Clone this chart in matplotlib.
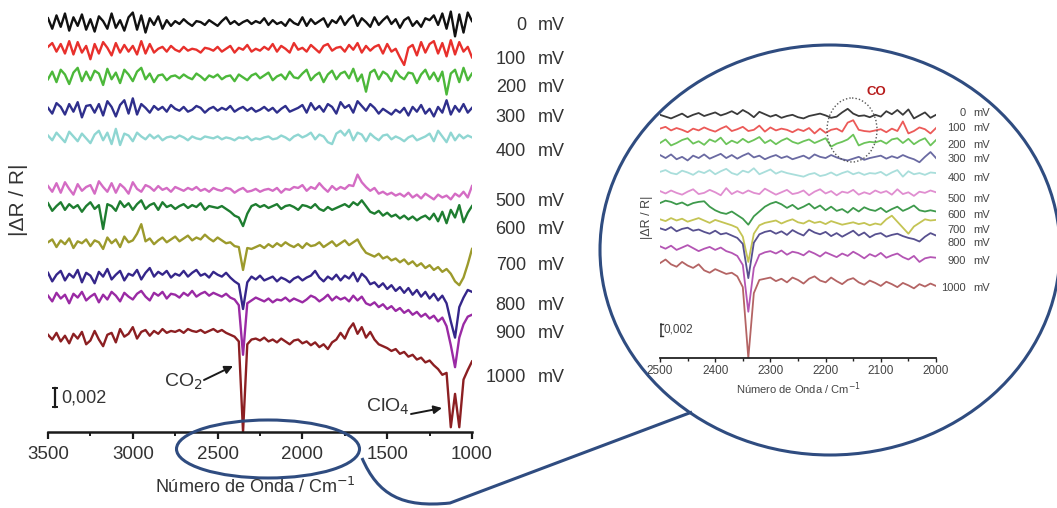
import numpy as np
import matplotlib.pyplot as plt
from matplotlib.patches import Ellipse, PathPatch
from matplotlib.path import Path

plt.rcParams['font.family'] = ['Liberation Sans', 'DejaVu Sans']

W, H = 1057, 508

# ---------------- data ----------------
potentials = [0, 100, 200, 300, 400, 500, 600, 700, 800, 900, 1000]

# full range spectra, 3500 -> 1000 cm-1 every 25 cm-1 (deviation, units of 1e-4)
wn_main = np.linspace(3500, 1000, 101)

main_0mV = [5, -6, 8, -4, 10, -8, 6, -3, 9, -7,
            4, -9, 7, 2, -6, 10, -5, 3, -8, 6,
            11, -7, 8, -10, 5, -2, 7, -6, 3, -3,
            2, -1, 4, 0, -3, 2, 1, -2, 3, 0,
            -3, 2, 6, -1, 2, -2, 1, 3, -1, 2,
            0, 5, -2, 3, -1, 1, -3, 4, 0, -2,
            6, -3, 4, -1, 2, 5, -4, 3, 0, 7,
            -2, 4, 8, -3, 5, 1, -4, 6, -2, 3,
            7, -1, 4, -5, 3, 6, -3, 2, -4, 5,
            3, 8, -2, 10, -6, 12, -14, 9, -10, 11,
            2]
main_100mV = [3, 7, -2, 6, -4, 9, -5, 8, -3, 4,
              -10, 6, -4, 8, 2, -6, 7, -3, 5, -2,
              4, -5, 9, -4, 6, -3, 1, 3, -2, 4,
              0, -2, 3, -1, 1, 0, -3, 2, 1, -1,
              3, -2, 1, 4, -3, 2, 0, 5, -2, 1,
              -1, 3, 0, 6, -2, 4, 1, -3, 7, 0,
              2, -2, 5, 1, -3, 4, 6, -1, 2, 3,
              -2, 5, 0, 7, -3, 4, -1, 3, 5, -4,
              6, -2, 1, -8, -16, 2, 5, -6, 8, -3,
              6, 9, -4, 7, -7, 10, -5, 8, -2, 3,
              -8]
main_200mV = [-2, 6, -5, 8, 3, -7, 5, 10, -4, 6,
              -3, 7, 4, -8, 9, -2, 5, -6, 8, 3,
              -4, 6, 10, -2, 4, -5, 2, 3, -3, 1,
              2, -1, 3, 0, -2, 4, 1, -3, 2, 0,
              3, -2, 1, 2, -4, 3, 0, -3, 2, 4,
              -1, 2, 5, -3, 1, 3, -2, 6, 0, -1,
              4, 8, -3, 2, 5, -5, 3, 7, -2, 4,
              6, -1, 9, -4, 3, -15, 5, 8, -2, 6,
              3, -4, 7, 1, -2, 5, 4, -6, 3, 8,
              -2, 5, -4, 6, -18, 4, 8, -5, 10, -3,
              4]
main_300mV = [2, -4, 7, 3, -5, 6, -2, 8, -8, 4,
              5, -3, 6, -6, 9, 3, -7, 5, 10, -4,
              12, -5, 6, 2, -3, 4, 0, 3, -2, 5,
              1, -1, 3, -2, 0, 4, 2, -3, 1, 3,
              -1, 2, 0, 4, -2, 1, 3, -1, 2, -2,
              0, 3, -1, 2, -3, 1, 4, -2, 0, 2,
              5, -3, 7, 0, 4, -2, 6, 3, -4, 8,
              2, 5, -3, 9, 4, -1, 6, 2, -4, 1,
              -2, -5, 0, -3, 2, -6, 3, -2, 5, -4,
              1, -7, 3, -3, 10, -5, 4, -2, 6, -3,
              2]
main_400mV = [3, -2, 6, 1, -4, 7, 2, -3, 5, 0,
              -5, 4, 8, -2, 6, -6, 10, -7, 5, 3,
              -3, 6, 2, -1, 4, 0, 3, -2, 1, 2,
              0, 3, 1, -2, 2, 0, -1, 2, 1, 0,
              2, -1, 1, 0, -2, 1, 0, 2, -2, 0,
              -1, 1, 2, -1, 0, 3, 1, -2, 2, 4,
              1, 3, 6, -1, 4, 2, -4, -6, 5, 8,
              3, 9, -2, 6, 4, -3, 5, 1, -2, 3,
              4, -1, 2, 0, -3, 1, 3, -2, 0, 2,
              5, -3, 8, 2, -4, 6, -2, 4, 0, 3,
              1]
main_500mV = [4, -2, 7, -3, 8, 1, -5, 6, -1, 3,
              5, -4, 9, 3, -2, 7, -3, 6, 2, -4,
              8, 1, -2, 5, 3, -1, 4, 0, 2, -2,
              3, 1, -1, 2, 0, 3, -1, 1, -2, 2,
              0, -1, 2, 1, -3, 0, 2, -2, -1, 1,
              -2, 0, 1, -1, 2, -3, 1, 0, 3, 2,
              5, -1, 3, 1, 7, 2, -2, 4, 0, 3,
              1, 5, 4, 16, 8, 3, -1, 2, -4, -2,
              -5, -3, -6, -4, -7, -3, -8, -5, -9, -4,
              -7, -10, -5, -8, -6, -10, -4, -7, -2, -8,
              4]
main_600mV = [5, -3, 2, 6, -2, 4, 0, 3, -4, 2,
              6, -1, 3, -22, 4, 2, -3, 7, 1, 5,
              -2, 4, 8, -1, 3, 5, -2, 6, 1, 3,
              -1, 2, 4, 0, 3, 1, 5, -2, 2, 1,
              0, 2, -1, -4, -8, -10, -19, -6, 2, 4,
              1, 3, 0, 2, 4, -1, 2, 3, 1, -2,
              3, 2, 0, 4, -1, -3, 1, -2, 0, 2,
              4, 1, 6, 3, 8, 2, -4, -6, -3, -8,
              -5, -9, -7, -11, -8, -12, -9, -13, -10, -8,
              -12, -6, -14, -4, -16, -2, -10, 3, -15, -5,
              2]
main_700mV = [3, 6, -2, 5, 1, 7, -3, 4, 2, 6,
              -1, 5, 3, -4, 8, 2, 6, -2, 9, 3,
              5, 12, 22, 4, 7, 1, 5, 8, 3, 6,
              9, 4, 7, 10, 5, 8, 6, 11, 7, 4,
              8, 5, 2, 3, -1, -2, -26, -3, -4, -2,
              0, -3, 1, -2, 2, -1, 3, 0, -2, 1,
              -3, 2, -1, 0, 3, -2, 1, 4, -1, 2,
              5, 0, 3, 6, -2, -8, -10, -12, -9, -14,
              -12, -16, -14, -18, -15, -20, -17, -22, -19, -24,
              -21, -26, -23, -28, -25, -30, -38, -42, -34, -20,
              -4]
main_800mV = [6, -3, 4, 8, -2, 5, 1, 9, -4, 6,
              3, -5, 7, 2, 10, -1, 4, 8, -2, 5,
              3, 9, -1, 6, 11, 2, 7, 4, 8, 1,
              5, 3, 8, 2, 6, 9, 3, 5, 1, 7,
              4, 2, 6, 1, -3, -6, -32, -4, 2, -1,
              3, -2, 0, 2, -3, 1, -1, -4, 0, 2,
              -2, 1, 3, 8, 1, -3, 2, -1, 4, -2,
              3, 0, 6, -3, 5, 1, -6, -4, -9, -5,
              -11, -7, -13, -9, -15, -10, -17, -12, -19, -14,
              -21, -16, -23, -18, -26, -45, -62, -30, -20, -12,
              -14]
main_900mV = [2, -4, 5, -1, 3, -6, 4, 0, 6, -3,
              1, 4, -5, 3, -2, 6, 2, -4, 5, 1,
              -2, 4, 7, 1, -3, 5, 2, 6, -1, 4,
              3, 0, 5, 2, 7, 1, 4, 6, 2, 5,
              3, 1, 4, 0, -2, -8, -60, -6, -3, 0,
              -2, -4, -1, -5, -2, -3, 0, -4, -1, -3,
              -5, -2, 2, 0, -4, -1, 3, -3, 1, -2,
              0, -4, 2, -3, 1, -6, -8, -5, -10, -7,
              -12, -9, -14, -11, -16, -13, -18, -15, -20, -17,
              -22, -19, -25, -21, -30, -50, -73, -42, -28, -20,
              -18]
main_1000mV = [2, -3, 4, -5, 1, -7, 3, -2, 5, -8,
               -4, 6, -3, -10, 2, 4, -6, 8, 0, 3,
               10, -2, 5, 7, 1, 6, 3, 8, 4, 6,
               5, 7, 4, 8, 6, 5, 7, 4, 6, 8,
               5, 7, 4, 2, 0, -5, -100, -8, -3, -2,
               -4, -1, -5, -3, -6, -2, -5, -8, -4, -3,
               -7, -5, -9, -6, -11, -8, -13, -6, -3, 4,
               -2, 8, 14, 3, 10, -1, 5, -3, -8, -10,
               -12, -15, -13, -18, -16, -21, -19, -24, -22, -27,
               -25, -30, -34, -40, -38, -95, -60, -95, -45, -35,
               -26]

# zoomed spectra, 2500 -> 2000 cm-1 every 10 cm-1 (deviation, units of 1e-4)
wn_inset = np.linspace(2500, 2000, 51)

inset_0mV = [0, -3, -6, -2, 2, -4, 0, 3, -2, 1,
             4, -1, 2, 6, 1, 8, 3, -4, 5, 1,
             -3, 0, -5, -2, 0, -4, -6, -2, 0, 2,
             -1, -5, -3, 4, 10, 2, -2, -1, -4, 0,
             -3, 6, 1, 8, 0, 9, -6, -1, 4, -5,
             0]
inset_100mV = [2, 5, -1, 3, 0, -4, 2, -1, 4, 0,
               -3, 2, 6, -2, 1, 5, -2, 0, 7, -3,
               4, -1, 2, 0, -4, 1, -2, 3, -6, 2,
               -5, 0, 2, -3, 12, 16, 0, -2, -3, -1,
               1, -4, 2, -2, 14, -6, -2, 4, 1, -6,
               3]
inset_200mV = [-2, 4, -6, -2, 3, 6, -3, 1, -5, 4,
               0, 7, -4, 2, -2, 5, -1, 3, 8, -2,
               3, -4, 2, 6, 0, -3, 1, 4, -2, 2,
               6, -8, -3, 0, 4, 12, -6, -2, 0, -1,
               2, -3, 4, 6, -2, 5, -4, 2, 6, -6,
               3]
inset_300mV = [3, -2, 4, -4, 0, -6, 2, -2, 4, -3,
               1, 5, -2, 3, -3, 2, 6, -1, 2, -4,
               0, 3, -2, 1, -4, -1, 2, -3, 4, 0,
               -2, 3, -1, -4, -6, -3, 0, -5, -2, 0,
               2, -3, 1, -2, 3, -1, -4, -9, 0, 8,
               -2]
inset_400mV = [2, 5, 0, -2, 4, 1, -3, 3, 0, 5,
               -2, 3, 7, 0, -3, 4, 1, 8, -2, 2,
               6, -1, 3, 0, -2, -4, -6, -2, 0, -5,
               -3, 1, -4, 0, 3, -2, 1, -3, 0, -1,
               2, -4, 1, 5, -6, 3, -2, 0, -3, 1,
               0]
inset_500mV = [3, -1, 4, 0, -3, 2, 6, -2, 0, 5,
               1, -4, 8, -2, 3, -1, 4, 0, -2, 7,
               2, -3, 1, 5, -2, 0, 4, -4, 2, 6,
               -1, 3, -4, 2, 0, 5, -3, 1, -2, 4,
               0, 3, -3, 6, -2, 1, -5, 2, 0, 4,
               1]
inset_600mV = [6, 10, 8, 4, 7, 2, 6, 8, 9, 0,
               -6, -10, -12, -8, -14, -20, -30, -16, -8, 0,
               5, 8, 4, -2, 3, -4, 0, 5, -3, 2,
               -6, 0, -7, -4, -10, -2, -8, -1, -5, -7,
               -2, -9, -4, 0, -7, -3, 2, -6, -8, -6,
               -8]
inset_700mV = [4, 1, 6, 2, 5, 0, 3, 6, 2, -2,
               3, 0, -3, -6, -10, -25, -67, -20, -6, -2,
               0, 2, -3, 1, 4, -1, -3, 2, -2, 0,
               -4, 1, -2, -5, -3, -1, -4, -2, -6, -3,
               -5, 4, 10, 0, -10, -20, -8, -2, 4, 2,
               3]
inset_800mV = [6, 3, 8, 1, 5, 7, 2, 4, 0, -3,
               2, -4, -2, -6, -10, -20, -77, -18, -4, 0,
               2, -3, 1, -5, 3, -2, -6, 4, -1, -4,
               0, -7, -2, -8, -3, 2, -6, -1, -9, -4,
               -2, -8, -5, -3, -7, -10, -12, -16, -8, -2,
               -6]
inset_900mV = [6, 2, 7, 0, 4, 8, 3, -2, 2, 5,
               0, 4, -2, -5, -10, -25, -103, -30, -8, -4,
               -2, -6, -1, -8, -3, -5, -9, -2, -6, -11,
               -4, -8, -12, -6, -10, -3, -8, -14, -7, -11,
               -5, -13, -9, -6, -12, -16, -10, -20, -14, -12,
               -13]
inset_1000mV = [20, 26, 18, 14, 22, 16, 12, 18, 8, 4,
                10, 6, 2, 4, -2, -20, -138, -30, -8, -6,
                -4, -10, -6, -12, -4, -8, -14, -6, -2, -9,
                -12, -4, -10, -15, -8, -5, -12, -16, -9, -13,
                -18, -11, -15, -20, -13, -17, -22, -15, -19, -14,
                -18]

main_traces = [main_0mV, main_100mV, main_200mV, main_300mV, main_400mV,
               main_500mV, main_600mV, main_700mV, main_800mV, main_900mV,
               main_1000mV]
inset_traces = [inset_0mV, inset_100mV, inset_200mV, inset_300mV, inset_400mV,
                inset_500mV, inset_600mV, inset_700mV, inset_800mV, inset_900mV,
                inset_1000mV]

# vertical stacking of the spectra (units of 1e-4)
offsets_main = [429, 401, 372, 338, 308, 254, 235, 196, 161, 141, 100]
offsets_inset = [405, 380, 360, 335, 308, 275, 252, 227, 210, 180, 138]

colors_main = ['#111111', '#e8302c', '#4cb83a', '#2f2f8c', '#8fd6d2', '#d46cc4',
               '#1e7d30', '#9c9a2c', '#35268a', '#9a2aa4', '#8c1f22']
colors_inset = ['#3a3a3a', '#ec5a58', '#6cc45a', '#6a6aa2', '#a9dedb', '#e08ed0',
                '#3e9a4c', '#c4c454', '#57508f', '#b455b4', '#b46464']

# ---------------- figure ----------------
fig = plt.figure(figsize=(W / 100, H / 100), dpi=100)


def px_axes(x0, y0, x1, y1):
    return [x0 / W, 1 - y1 / H, (x1 - x0) / W, (y1 - y0) / H]


SCALE = 1e-4

# main panel
ax = fig.add_axes(px_axes(48, 3, 472, 432))
for dev, off, c in zip(main_traces, offsets_main, colors_main):
    ax.plot(wn_main, (off + np.array(dev)) * SCALE, color=c, lw=1.7,
            solid_joinstyle='round')
ax.set_xlim(3500, 1000)
ax.set_ylim(0, 0.0450)
for s in ('left', 'right', 'top'):
    ax.spines[s].set_visible(False)
ax.spines['bottom'].set_linewidth(1.8)
ax.spines['bottom'].set_color('#1a1a1a')
ax.set_yticks([])
ax.set_xticks([3500, 3000, 2500, 2000, 1500, 1000])
ax.set_xticks(np.arange(3250, 1000, -500), minor=True)
ax.tick_params(axis='x', which='major', direction='out', length=5, width=1.6,
               labelsize=13.5, pad=5, colors='#1a1a1a', labelcolor='#333333')
ax.tick_params(axis='x', which='minor', direction='out', length=3, width=1.4,
               colors='#1a1a1a')
ax.patch.set_alpha(0)

# scale bar 0,002
bx = 3459
ax.plot([bx, bx], [0.0026, 0.0046], color='#1a1a1a', lw=1.6)
ax.plot([bx - 10, bx + 10], [0.0026, 0.0026], color='#1a1a1a', lw=1.4)
ax.plot([bx - 10, bx + 10], [0.0046, 0.0046], color='#1a1a1a', lw=1.4)
ax.text(3420, 0.0036, '0,002', fontsize=13, va='center', ha='left', color='#333333')

# inset panel
axi = fig.add_axes(px_axes(660, 95, 936, 358))
for dev, off, c in zip(inset_traces, offsets_inset, colors_inset):
    axi.plot(wn_inset, (off + np.array(dev)) * SCALE, color=c, lw=1.3,
             solid_joinstyle='round')
axi.set_xlim(2500, 2000)
axi.set_ylim(0, 0.0438)
for s in ('left', 'right', 'top'):
    axi.spines[s].set_visible(False)
axi.spines['bottom'].set_linewidth(1.3)
axi.spines['bottom'].set_color('#222222')
axi.set_yticks([])
axi.set_xticks([2500, 2400, 2300, 2200, 2100, 2000])
axi.set_xticks(np.arange(2450, 2000, -100), minor=True)
axi.tick_params(axis='x', which='major', direction='out', length=3, width=1.0,
                labelsize=8.5, pad=2, colors='#222222', labelcolor='#444444')
axi.tick_params(axis='x', which='minor', direction='out', length=2, width=1.0,
                colors='#222222')
axi.patch.set_alpha(0)

ix = 2498
axi.plot([ix, ix], [0.0037, 0.0057], color='#333333', lw=1.1)
axi.plot([ix - 3, ix + 3], [0.0037, 0.0037], color='#333333', lw=1.0)
axi.plot([ix - 3, ix + 3], [0.0057, 0.0057], color='#333333', lw=1.0)
axi.text(2494, 0.0047, '0,002', fontsize=8.5, va='center', ha='left', color='#444444')

# overlay in pixel coordinates for labels, callouts and connectors
ov = fig.add_axes([0, 0, 1, 1], zorder=5)
ov.set_xlim(0, W)
ov.set_ylim(H, 0)
ov.axis('off')
ov.patch.set_alpha(0)

label_y_main = [25, 59, 87, 118, 152, 202, 230, 265, 305, 333, 377]
for p, y in zip(potentials, label_y_main):
    ov.text(526, y, f'{p}', fontsize=13, ha='right', va='center', color='#333333')
    ov.text(538, y, 'mV', fontsize=13, ha='left', va='center', color='#333333')

label_y_inset = [113, 128, 145, 159, 178, 199, 215, 230, 243, 261, 288]
for p, y in zip(potentials, label_y_inset):
    ov.text(966, y, f'{p}', fontsize=8, ha='right', va='center', color='#444444')
    ov.text(973, y, 'mV', fontsize=8, ha='left', va='center', color='#444444')

ov.text(18, 200, '|ΔR / R|', fontsize=15, rotation=90, ha='center', va='center',
        color='#333333')
ov.text(255, 487, 'Número de Onda / Cm$^{-1}$', fontsize=13, ha='center',
        va='center', color='#333333')
ov.text(647, 217, '|ΔR / R|', fontsize=9, rotation=90, ha='center', va='center',
        color='#444444')
ov.text(798, 389, 'Número de Onda / Cm$^{-1}$', fontsize=8, ha='center',
        va='center', color='#444444')

# band assignments
ov.text(183, 382, 'CO$_2$', fontsize=14, ha='center', va='center', color='#333333')
ov.annotate('', xy=(233, 366), xytext=(204, 380),
            arrowprops=dict(arrowstyle='-|>', color='#1a1a1a', lw=1.4,
                            mutation_scale=12, shrinkA=0, shrinkB=0))
ov.text(388, 407, 'ClO$_4$', fontsize=14, ha='center', va='center', color='#333333')
ov.annotate('', xy=(442, 408), xytext=(411, 414),
            arrowprops=dict(arrowstyle='-|>', color='#1a1a1a', lw=1.4,
                            mutation_scale=12, shrinkA=0, shrinkB=0))
ov.text(876, 92, 'CO', fontsize=9.5, fontweight='bold', ha='center', va='center',
        color='#b71c1c')
ov.add_patch(Ellipse((852, 130), 50, 64, fill=False, ls=(0, (1, 1.5)),
                     lw=1.0, ec='#555555'))

# zoom callout
blue = '#2f4c80'
ov.add_patch(Ellipse((268, 449), 183, 58, fill=False, lw=2.2, ec=blue))
ov.add_patch(Ellipse((830, 250), 460, 410, fill=False, lw=2.2, ec=blue))
verts = [(362, 458), (378, 495), (402, 508), (450, 503), (692, 412)]
codes = [Path.MOVETO, Path.CURVE4, Path.CURVE4, Path.CURVE4, Path.LINETO]
ov.add_patch(PathPatch(Path(verts, codes), fill=False, lw=2.2, ec=blue))

fig.savefig('out.png', dpi=100)
